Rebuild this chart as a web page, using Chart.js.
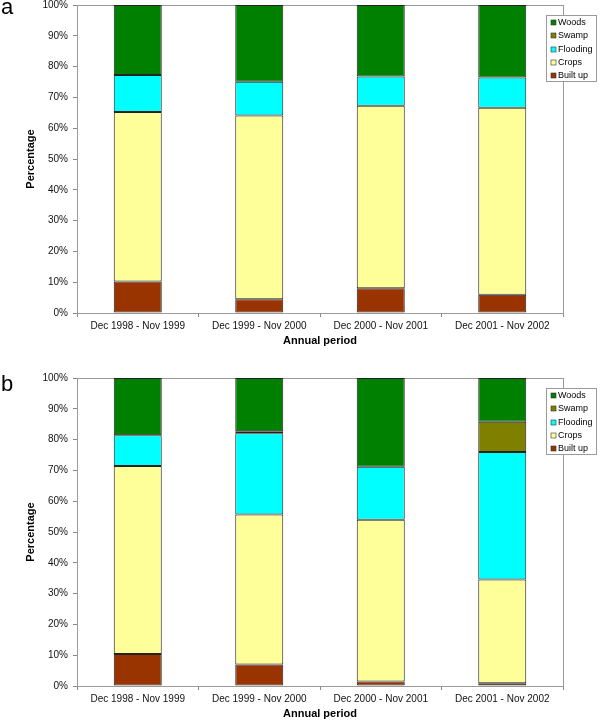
<!DOCTYPE html>
<html>
<head>
<meta charset="utf-8">
<script src="https://cdn.jsdelivr.net/npm/chart.js@4.4.1/dist/chart.umd.min.js"></script>
<style>
  body { margin: 0; background: #fff; }
  .panel { position: relative; width: 600px; }
  .tag { position: absolute; left: 1px; font: 22px Arial, "Liberation Sans", sans-serif; color: #000; }
</style>
</head>
<body>
<div class="panel" style="height:360px"><div class="tag" style="top:-6px">a</div><canvas id="chartA" width="600" height="360"></canvas></div>
<div class="panel" style="height:361px"><div class="tag" style="top:11px">b</div><canvas id="chartB" width="600" height="361"></canvas></div>
<script>
const periods = ['Dec 1998 - Nov 1999', 'Dec 1999 - Nov 2000', 'Dec 2000 - Nov 2001', 'Dec 2001 - Nov 2002']
const seriesNames = ['Built up', 'Crops', 'Flooding', 'Swamp', 'Woods']
const seriesColors = ['#993300', '#FFFF99', '#00FFFF', '#808000', '#008000']
const yTicks = [0, 10, 20, 30, 40, 50, 60, 70, 80, 90, 100]

// panel a (percent of area)
const builtUpA  = [10.2, 4.5, 8.0, 5.9]
const cropsA    = [55.1, 59.6, 59.3, 60.7]
const floodingA = [12.0, 11.0, 9.5, 9.9]
const swampA    = [0, 0, 0, 0]
const woodsA    = [22.7, 24.9, 23.2, 23.5]

// panel b
const builtUpB  = [10.4, 7.0, 1.5, 0.9]
const cropsB    = [61.0, 48.7, 52.5, 33.7]
const floodingB = [10.0, 26.4, 17.2, 41.4]
const swampB    = [0, 0.6, 0, 9.8]
const woodsB    = [18.6, 17.3, 28.8, 14.2]

const FONT = 'Arial, "Liberation Sans", sans-serif'

// grey frame round the plot area, like the excel original
const framePlugin = {
  id: 'frame',
  beforeDatasetsDraw(chart) {
    const a = chart.chartArea
    const c = chart.ctx
    c.save()
    c.strokeStyle = '#9a9a9a'
    c.lineWidth = 1
    c.strokeRect(Math.round(a.left) + 0.5, Math.round(a.top) + 0.5, Math.round(a.right - a.left), Math.round(a.bottom - a.top))
    c.restore()
  }
}

// boxed legend sitting over the right edge of the plot
const legendBox = {
  id: 'legendBox',
  afterDraw(chart) {
    const a = chart.chartArea
    const c = chart.ctx
    const x = Math.round(a.right) - 17, y = Math.round(a.top) + 10
    c.save()
    c.fillStyle = '#fff'
    c.fillRect(x, y, 50, 66)
    c.strokeStyle = '#9a9a9a'
    c.strokeRect(x + 0.5, y + 0.5, 50, 66)
    c.font = '9px ' + FONT
    c.textBaseline = 'middle'
    const ds = chart.data.datasets.slice().reverse()
    ds.forEach((d, i) => {
      const yy = Math.round(y + 8 + i * 13.3)
      c.fillStyle = d.backgroundColor
      c.fillRect(x + 5, yy - 3, 5, 5)
      c.strokeStyle = '#333'
      c.lineWidth = 0.6
      c.strokeRect(x + 5, yy - 3, 5, 5)
      c.fillStyle = '#000'
      c.fillText(d.label, x + 12, yy)
    })
    c.restore()
  }
}

function makeChart(id, series, padTop, padBottom) {
  const ctx = document.getElementById(id).getContext('2d')
  return new Chart(ctx, {
    type: 'bar',
    data: {
      labels: periods,
      datasets: seriesNames.map((name, i) => ({
        label: name,
        data: series[i],
        backgroundColor: seriesColors[i],
        borderColor: '#222',
        borderWidth: 1,
        borderSkipped: false,
        categoryPercentage: 1,
        barPercentage: 0.395
      }))
    },
    options: {
      responsive: false,
      animation: false,
      layout: { padding: { left: 20, right: 37, top: padTop, bottom: padBottom } },
      plugins: { legend: { display: false }, tooltip: { enabled: false } },
      scales: {
        x: {
          stacked: true,
          afterFit: (s) => { s.height = 35 },
          grid: { drawOnChartArea: false, tickLength: 4, color: '#888', offset: true },
          border: { color: '#888' },
          ticks: { color: '#111', font: { size: 10, family: FONT }, padding: 3, maxRotation: 0 },
          title: { display: true, text: 'Annual period', color: '#000', font: { size: 11, weight: 'bold', family: FONT }, padding: { top: 4, bottom: 0 } }
        },
        y: {
          stacked: true,
          min: 0,
          max: 100,
          afterFit: (s) => { s.width = 57; s.paddingTop = 0; s.paddingBottom = 0 },
          afterBuildTicks: (s) => { s.ticks = yTicks.map((v) => ({ value: v })) },
          grid: { drawOnChartArea: false, tickLength: 4, color: '#888' },
          border: { color: '#888' },
          ticks: { color: '#111', font: { size: 10, family: FONT }, padding: 5, callback: (v) => v + '%' },
          title: { display: true, text: 'Percentage', color: '#000', font: { size: 11, weight: 'bold', family: FONT }, padding: 4 }
        }
      }
    },
    plugins: [framePlugin, legendBox]
  })
}

makeChart('chartA', [builtUpA, cropsA, floodingA, swampA, woodsA], 5, 12)
makeChart('chartB', [builtUpB, cropsB, floodingB, swampB, woodsB], 18, 0)
</script>
</body>
</html>
